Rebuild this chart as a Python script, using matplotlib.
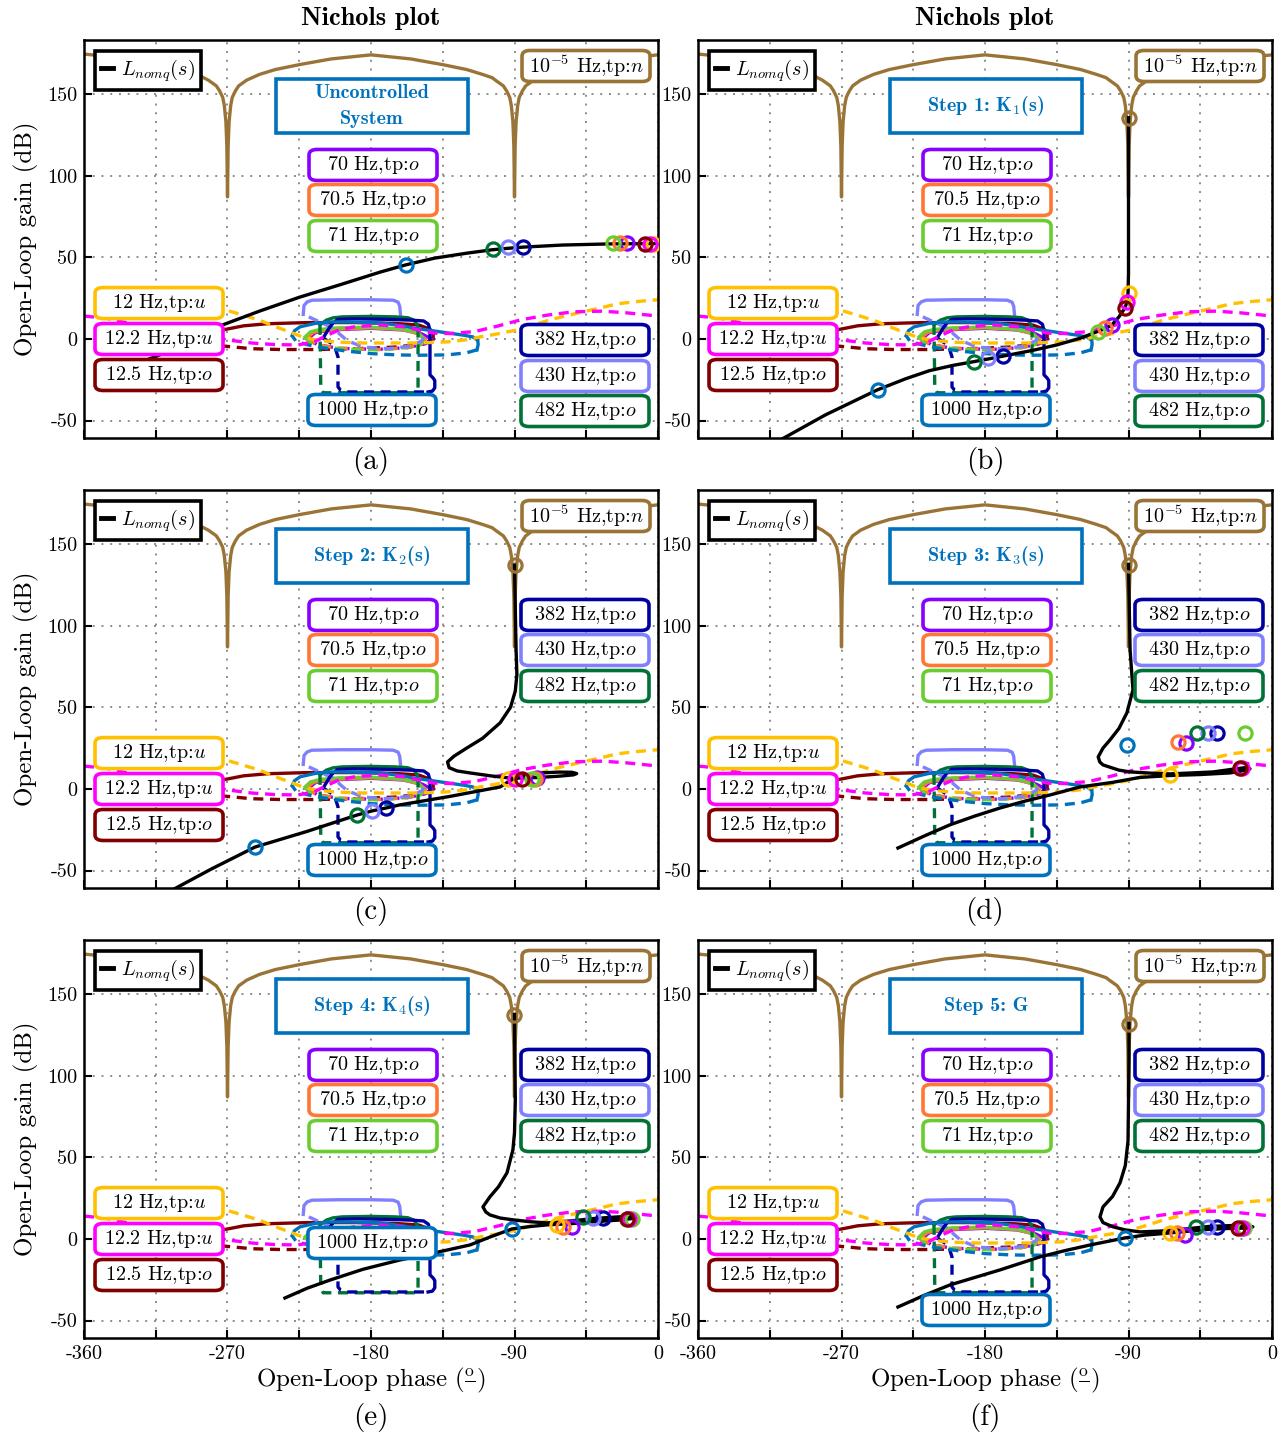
import numpy as np
import matplotlib
matplotlib.use('Agg')
import matplotlib.pyplot as plt
from matplotlib.patches import FancyBboxPatch, Rectangle
from matplotlib.lines import Line2D

plt.rcParams['font.family'] = ['cmr10', 'Liberation Serif', 'DejaVu Serif']
plt.rcParams['mathtext.fontset'] = 'cm'
plt.rcParams['axes.unicode_minus'] = False

# colours of the frequency bounds
C_N = '#9a7436'      # 1e-5 Hz
C_12 = '#ffc000'
C_122 = '#ff00ff'
C_125 = '#800000'
C_70 = '#8800ff'
C_705 = '#ff7733'
C_71 = '#6acc30'
C_382 = '#0000a0'
C_430 = '#8080ff'
C_482 = '#007236'
C_1000 = '#0072bd'

# ---- bounds (same in every panel): phase (deg), gain (dB) ----
n5_ph = [-360, -340, -320, -300, -290, -286, -282, -277, -275, -273, -272, -271, -270.4, -270,
         -269.6, -269, -268, -267, -265, -263, -258, -250, -240, -225, -205, -180, -155, -135,
         -120, -110, -104, -102, -97, -95, -93, -92, -91, -90.4, -90, -89.6, -89, -88, -87, -85,
         -83, -78, -70, -60, -45, -25, 0]
n5_db = [174.5, 172.5, 169.5, 165, 162, 160.5, 158.5, 155, 152, 148, 143, 133, 118, 87,
         118, 133, 143, 148, 152, 155, 158.5, 162, 165, 168, 171.5, 174, 171.5, 168,
         165, 162, 160, 158.5, 155, 152, 148, 143, 133, 118, 87, 118, 133, 143, 148, 152,
         155, 158.5, 162, 165, 168, 171.5, 174]

b12_ph = [-300, -285, -272, -260, -250, -240, -229, -222, -212, -200, -185, -170, -150, -132, -120,
          -111.6, -100, -88.4, -78, -67.7, -57, -47, -36, -25.7, -12, 0]
b12_db = [22, 20.5, 18, 14.5, 11.5, 7.5, 3.5, 0.8, -1, -2, -2.5, -2.5, -2.5, -1.8, -0.5,
          1.2, 3.2, 5.5, 8.5, 11.7, 14.3, 16.6, 19, 21.5, 23, 24]

b122_ph = [-360, -345, -336, -320, -300, -285, -270, -255, -240, -226, -216, -208, -200, -190, -175,
           -160, -148, -140, -130, -115, -100, -86, -70, -53, -35, -20, 0]
b122_db = [14, 12.5, 10.4, 7.5, 4, 1.5, -0.6, -2.5, -3.5, -3.7, -2, 2, 5.5, 7.5, 8.5,
           7.5, 5, 3.5, 3.3, 4.5, 8, 11.7, 14.5, 16.6, 17, 16, 14]

b125_up_ph = [-285, -273, -260, -245, -220, -190, -165, -150, -143, -141, -141]
b125_up_db = [3, 5.5, 8, 9.3, 10, 10, 9.5, 8.5, 6, 3, 0]
b125_lo_ph = [-285, -271, -255, -237, -215, -190, -165, -150, -143, -141]
b125_lo_db = [-3, -4.5, -6, -6.5, -6.5, -6, -5, -3.5, -2, 0]

b70_up_ph = [-219, -215, -205, -180, -160, -148, -142]
b70_up_db = [0.5, 3.8, 5.5, 6.5, 5.5, 3, 0]
b70_lo_ph = [-219, -214, -200, -175, -157, -146, -142]
b70_lo_db = [0.5, -3.5, -5.8, -6.4, -5.3, -3, 0]

b705_up_ph = [-220, -216, -206, -180, -160, -150, -146]
b705_up_db = [0.8, 4, 5.7, 6.8, 5.7, 3, 0]
b705_lo_ph = [-220, -215, -202, -175, -157, -148, -146]
b705_lo_db = [0.8, -3.3, -5.6, -6.5, -5.4, -3, 0]

b71_up_ph = [-221.4, -218, -212, -200, -180, -160, -150, -147]
b71_up_db = [1.2, 4.3, 5.8, 6.8, 7.2, 6, 3.5, 0]
b71_lo_ph = [-221.4, -219, -212, -195, -174, -160, -149, -147]
b71_lo_db = [1.2, -2, -4.9, -6.3, -6.7, -5.5, -3.7, 0]

b430_up_ph = [-222.5, -222, -220, -217, -200, -180, -166, -163, -162, -161.5]
b430_up_db = [15, 20.5, 22.7, 23.7, 24, 24, 23.7, 22.5, 20, 15]
b430_lo_ph = [-219, -204, -195, -185, -170, -155, -148, -146]
b430_lo_db = [13.5, 6.7, -1, -5, -6, -4.5, -1, 3]

b482_up_ph = [-212, -208, -203.8, -198, -180, -165, -157, -153, -151, -150.5]
b482_up_db = [8.6, 11.5, 12.9, 13.5, 13.8, 13.5, 13, 11.5, 8.5, 5.5]
b482_lo_ph = [-212, -211.5, -210, -152, -150.5, -150.5]
b482_lo_db = [8.6, -30, -33, -33, -30, 5.5]

b382_up_ph = [-210, -206, -203.8, -200.7, -190, -170, -155, -147, -144, -143, -143, -141, -140,
              -140, -141.5, -144.2]
b382_up_db = [0.6, 7, 9.8, 12, 12.3, 12, 11.5, 11, 9, 5, -22, -24, -25.5, -30, -32, -32.5]
b382_lo_ph = [-210, -203, -200.7, -200.7, -199, -195, -170, -144.2]
b382_lo_db = [0.6, -4, -11, -29.4, -31.5, -32.5, -32.5, -32.5]

b1000_up_ph = [-229.5, -228, -224.5, -215, -205.7, -190, -174.3, -160, -153.6, -140, -132.3,
               -122, -116, -113, -112.8, -113.5]
b1000_up_db = [2, 5, 7.4, 9.5, 10.4, 10.3, 9.8, 8, 6.7, 4.8, 3.7, 2.3, 1.2, -1, -3.5, -6.7]
b1000_lo_ph = [-113.5, -120, -132.3, -150, -164, -180, -195, -210, -220, -227, -229.5]
b1000_lo_db = [-6.7, -8.5, -9.8, -10, -9.8, -9, -7.5, -5.5, -3.5, -1.5, 2]

# ---- nominal open loop L(s) for each design step ----
L_a_ph = [-345, -317, -295, -273, -250, -225, -200, -174, -158, -140, -120, -104, -94, -85, -60, -30, 0]
L_a_db = [-22, -11.5, -3, 8.6, 17, 25.5, 33, 41, 45.4, 49.5, 52.5, 54.6, 55.5, 56.2, 57.5, 58.2, 58.4]

L_b_ph = [-315, -306.7, -280, -247.7, -230, -215, -200, -188, -178, -169, -150, -135, -120, -110,
          -105, -100.5, -96, -92.2, -91, -90.3, -90, -90, -90]
L_b_db = [-67, -61, -46.5, -31.3, -24.5, -19.5, -16.2, -14.1, -12.3, -10.6, -7, -3.7, 0.5, 4.3,
          6.2, 8.5, 13.5, 19, 22.7, 28, 40, 100, 135.5]

L_c_ph = [-90, -89.5, -89, -88.5, -89.5, -92.5, -99, -110, -120, -128, -132, -131, -126, -118, -105,
          -94, -85, -75, -62, -53, -51, -54, -62, -74, -84, -92, -99, -130, -162, -170.6, -179.4,
          -188.8, -220, -252.7, -280, -302.3, -310]
L_c_db = [137, 110, 85, 70, 60, 50, 40.5, 31, 25, 20, 16.5, 13, 11, 9.8, 8,
          6.8, 6.6, 7, 7.8, 8.6, 9.4, 10.2, 10.3, 9.8, 8.5, 5.5, 1.2, -4.5, -9.8, -11.7, -13.5,
          -16, -26, -35.6, -49, -60.7, -65]

L_d_ph = [-90, -89.5, -89, -87.2, -91, -96, -101.6, -106, -109, -108, -106, -96, -89, -75, -64, -50,
          -37, -25, -17, -13.8, -16, -26.3, -45, -64, -83, -100, -120.4, -139.2, -155, -170.6, -186,
          -202, -218, -234.6]
L_d_db = [137.4, 110, 85, 60.7, 46.6, 37, 30, 25, 19.6, 16.5, 14.7, 11.5, 10.4, 9.6, 9.2, 9.8,
          10.4, 12, 13, 12.3, 11.5, 9.8, 8.8, 8.2, 7, 4, 1.2, -3.7, -7.5, -11.7, -16.5,
          -22, -28.8, -36.2]

L_e_ph = [-90, -89.8, -89.5, -90, -91, -94.7, -100, -105.4, -109.8, -108, -105.4, -99, -91, -80,
          -69.6, -55, -40, -25, -15, -13.2, -16, -25, -40, -55, -69.6, -80, -91.6, -105, -117.9,
          -140, -161.8, -185, -205.7, -220, -234]
L_e_db = [137.4, 110, 85, 65, 54.6, 40.5, 32, 25.8, 19.6, 16.5, 14.7, 12.8, 11.7, 10.5,
          9.8, 11, 12.5, 13.5, 13.8, 13.5, 12.5, 11.5, 10.5, 9.3, 8.6, 7.6, 6.1, 1.3, -3.7,
          -8.5, -12.9, -18.6, -25.2, -30.2, -36.2]

L_f_ph = [-89.7, -89.7, -90, -90.3, -92, -95.3, -100, -106, -107.9, -106, -99.7, -92, -82.8, -70, -55,
          -40, -25, -15, -12, -15, -25, -40, -55, -65.8, -80, -92.2, -114, -130, -145.5, -170.6,
          -186, -202, -218, -234.6]
L_f_db = [131.9, 110, 85, 60, 45, 34.4, 26, 19.6, 13.5, 10, 7.4, 5.5, 4.3, 4.8, 6,
          7.6, 8.2, 8, 7.4, 6.6, 6.5, 5.8, 4.5, 3.5, 2.3, 0.6, -3.7, -7.2, -11, -19,
          -23.5, -28.2, -34.5, -41.7]

# ---- template points of L at each frequency, per panel ----
freqs = ['1e-5', '1000', '382', '430', '482', '70', '70.5', '71', '12', '12.2', '12.5']
mk_colors = [C_N, C_1000, C_382, C_430, C_482, C_70, C_705, C_71, C_12, C_122, C_125]

mk_a_ph = [np.nan, -158, -84.7, -94.1, -103.5, -19.4, -23.8, -28.2, -3.1, -5, -8.1]
mk_a_db = [np.nan, 45.4, 56.4, 56.4, 55.2, 58.6, 58.6, 58.6, 58.3, 58.3, 58.3]
mk_b_ph = [-89.5, -247.3, -168.7, -178.1, -187, -100.3, -104.7, -109, -89.7, -91, -92.2]
mk_b_db = [135.6, -31.3, -10.4, -11.7, -14.1, 8.6, 6.7, 4.3, 28.2, 22.7, 19]
mk_c_ph = [-90, -252.7, -170.6, -179.4, -188.8, -75.9, -77.1, -79, -94, -89.7, -85.3]
mk_c_db = [137.4, -35.6, -11.7, -13.5, -16, 6.4, 6.1, 6.1, 6.1, 6.1, 6.1]
mk_d_ph = [-90, -91, -34.5, -40, -47, -54, -59, -17, -64, -19, -20]
mk_d_db = [137.4, 27, 34.4, 34.4, 34.4, 28.2, 28.8, 34.4, 8.6, 12.9, 12.9]
mk_e_ph = [-90.3, -91.6, -34.5, -40.7, -47, -54, -59.6, -16.3, -63.3, -18.2, -19.4]
mk_e_db = [137.4, 6.1, 12.9, 12.9, 13.5, 7.4, 7.4, 12.3, 8.6, 12.3, 12.3]
mk_f_ph = [-89.7, -92.2, -34.5, -40.1, -47.7, -54.6, -59.6, -17.6, -64, -18.8, -21.3]
mk_f_db = [131.9, 0.6, 7.4, 7.4, 7.4, 2.5, 3.7, 6.7, 3.7, 6.7, 6.7]

L_curves = [(L_a_ph, L_a_db), (L_b_ph, L_b_db), (L_c_ph, L_c_db),
            (L_d_ph, L_d_db), (L_e_ph, L_e_db), (L_f_ph, L_f_db)]
markers = [(mk_a_ph, mk_a_db), (mk_b_ph, mk_b_db), (mk_c_ph, mk_c_db),
           (mk_d_ph, mk_d_db), (mk_e_ph, mk_e_db), (mk_f_ph, mk_f_db)]
step_titles = ['Uncontrolled\nSystem', r'Step 1: K$_\mathbf{1}$(s)', r'Step 2: K$_\mathbf{2}$(s)',
               r'Step 3: K$_\mathbf{3}$(s)', r'Step 4: K$_\mathbf{4}$(s)', 'Step 5: G']
sub_labels = ['(a)', '(b)', '(c)', '(d)', '(e)', '(f)']

# (phase, gain, colour, linestyle), drawn in this order
bounds = [
    (n5_ph, n5_db, C_N, '-'),
    (b125_up_ph, b125_up_db, C_125, '-'), (b125_lo_ph, b125_lo_db, C_125, '--'),
    (b70_up_ph, b70_up_db, C_70, '-'), (b70_lo_ph, b70_lo_db, C_70, '--'),
    (b705_up_ph, b705_up_db, C_705, '-'), (b705_lo_ph, b705_lo_db, C_705, '--'),
    (b71_up_ph, b71_up_db, C_71, '-'), (b71_lo_ph, b71_lo_db, C_71, '--'),
    (b430_up_ph, b430_up_db, C_430, '-'), (b430_lo_ph, b430_lo_db, C_430, '--'),
    (b482_up_ph, b482_up_db, C_482, '-'), (b482_lo_ph, b482_lo_db, C_482, '--'),
    (b382_up_ph, b382_up_db, C_382, '-'), (b382_lo_ph, b382_lo_db, C_382, '--'),
    (b1000_up_ph, b1000_up_db, C_1000, '-'), (b1000_lo_ph, b1000_lo_db, C_1000, '--'),
    (b12_ph, b12_db, C_12, '--'),
    (b122_ph, b122_db, C_122, '--'),
]

BW, BH = 128 / 574, 31 / 398   # label box size in axes units


def tag(ax, cx, cy, text, color):
    ax.add_patch(FancyBboxPatch((cx - BW / 2, cy - BH / 2), BW, BH,
                                boxstyle='round,pad=0,rounding_size=0.014',
                                transform=ax.transAxes, fc='white', ec=color,
                                lw=2.6, zorder=6))
    ax.text(cx, cy, text, transform=ax.transAxes, ha='center', va='center',
            fontsize=14.5, zorder=7)


fig = plt.figure(figsize=(12.86, 14.36), dpi=100)
lefts = [84, 698]
tops = [40, 490, 940]
W, H = 574, 398

for i in range(6):
    r, c = divmod(i, 2)
    ax = fig.add_axes([lefts[c] / 1286, 1 - (tops[r] + H) / 1436, W / 1286, H / 1436])

    for ph, db, col, ls in bounds:
        ax.plot(ph, db, color=col, lw=2.4, zorder=2,
                linestyle=(0, (3, 2)) if ls == '--' else '-')

    ax.plot(L_curves[i][0], L_curves[i][1], color='k', lw=2.4, zorder=3)
    mph, mdb = markers[i]
    for k in range(len(freqs)):
        ax.plot(mph[k], mdb[k], 'o', mfc='none', mec=mk_colors[k], ms=9.5, mew=2.3, zorder=4)

    ax.set_xlim(-360, 0)
    ax.set_ylim(-60.7, 183.1)
    ax.set_xticks(np.arange(-360, 1, 45))
    ax.set_yticks([-50, 0, 50, 100, 150])
    ax.set_yticklabels(['-50', '0', '50', '100', '150'])
    if r == 2:
        ax.set_xticklabels(['-360', '', '-270', '', '-180', '', '-90', '', '0'])
        # ordinal-style degree sign: small o over a bar
        ax.set_xlabel(r'Open-Loop phase ($\frac{\mathrm{o}}{\,}$)', fontsize=18, labelpad=2)
    else:
        ax.set_xticklabels([])
    if c == 0:
        ax.set_ylabel('Open-Loop gain (dB)', fontsize=18, labelpad=6)
    ax.tick_params(direction='in', length=6, width=1.5, labelsize=14.5, pad=5)
    ax.grid(True, color='0.55', linestyle=(0, (1, 3.5)), linewidth=1.4)
    for s in ax.spines.values():
        s.set_linewidth(1.8)

    leg = ax.legend([Line2D([], [], color='k', lw=3.5)], [r'$L_{nomq}(s)$'], loc='upper left',
                    fancybox=False, edgecolor='k', framealpha=1, handlelength=0.6,
                    handletextpad=0.4, borderpad=0.3, borderaxespad=0.55, fontsize=14.5)
    leg.get_frame().set_linewidth(2.6)
    leg.set_zorder(8)

    # step title box
    ax.add_patch(Rectangle((0.5017 - 0.1672, 0.834 - 0.0678), 0.3345, 0.1357,
                           transform=ax.transAxes, fc='white', ec=C_1000, lw=2.6, zorder=6))
    ax.text(0.5017, 0.834, step_titles[i], transform=ax.transAxes, ha='center', va='center',
            fontsize=14.5, color=C_1000, fontfamily='cmb10', linespacing=1.55, zorder=7)

    tag(ax, 0.8746, 0.9347, r'10$^{\mathrm{-5}}$ Hz,tp:$n$', C_N)
    tag(ax, 0.5035, 0.686, r'70 Hz,tp:$o$', C_70)
    tag(ax, 0.5035, 0.598, r'70.5 Hz,tp:$o$', C_705)
    tag(ax, 0.5035, 0.5075, r'71 Hz,tp:$o$', C_71)
    tag(ax, 0.1307, 0.339, r'12 Hz,tp:$u$', C_12)
    tag(ax, 0.1307, 0.2487, r'12.2 Hz,tp:$u$', C_122)
    tag(ax, 0.1307, 0.1583, r'12.5 Hz,tp:$o$', C_125)
    hi = i >= 2
    tag(ax, 0.8728, 0.686 if hi else 0.2462, r'382 Hz,tp:$o$', C_382)
    tag(ax, 0.8728, 0.598 if hi else 0.1558, r'430 Hz,tp:$o$', C_430)
    tag(ax, 0.8728, 0.5075 if hi else 0.0678, r'482 Hz,tp:$o$', C_482)
    tag(ax, 0.5017, 0.2387 if i == 4 else 0.0704, r'1000 Hz,tp:$o$', C_1000)

    cx = (lefts[c] + W / 2) / 1286
    fig.text(cx, 1 - [462, 912, 1418][r] / 1436, sub_labels[i], ha='center', va='center',
             fontsize=21)
    if r == 0:
        fig.text(cx, 1 - 18 / 1436, 'Nichols plot', ha='center', va='center',
                 fontsize=19, fontfamily='cmb10')

fig.savefig('out.png', dpi=100)
